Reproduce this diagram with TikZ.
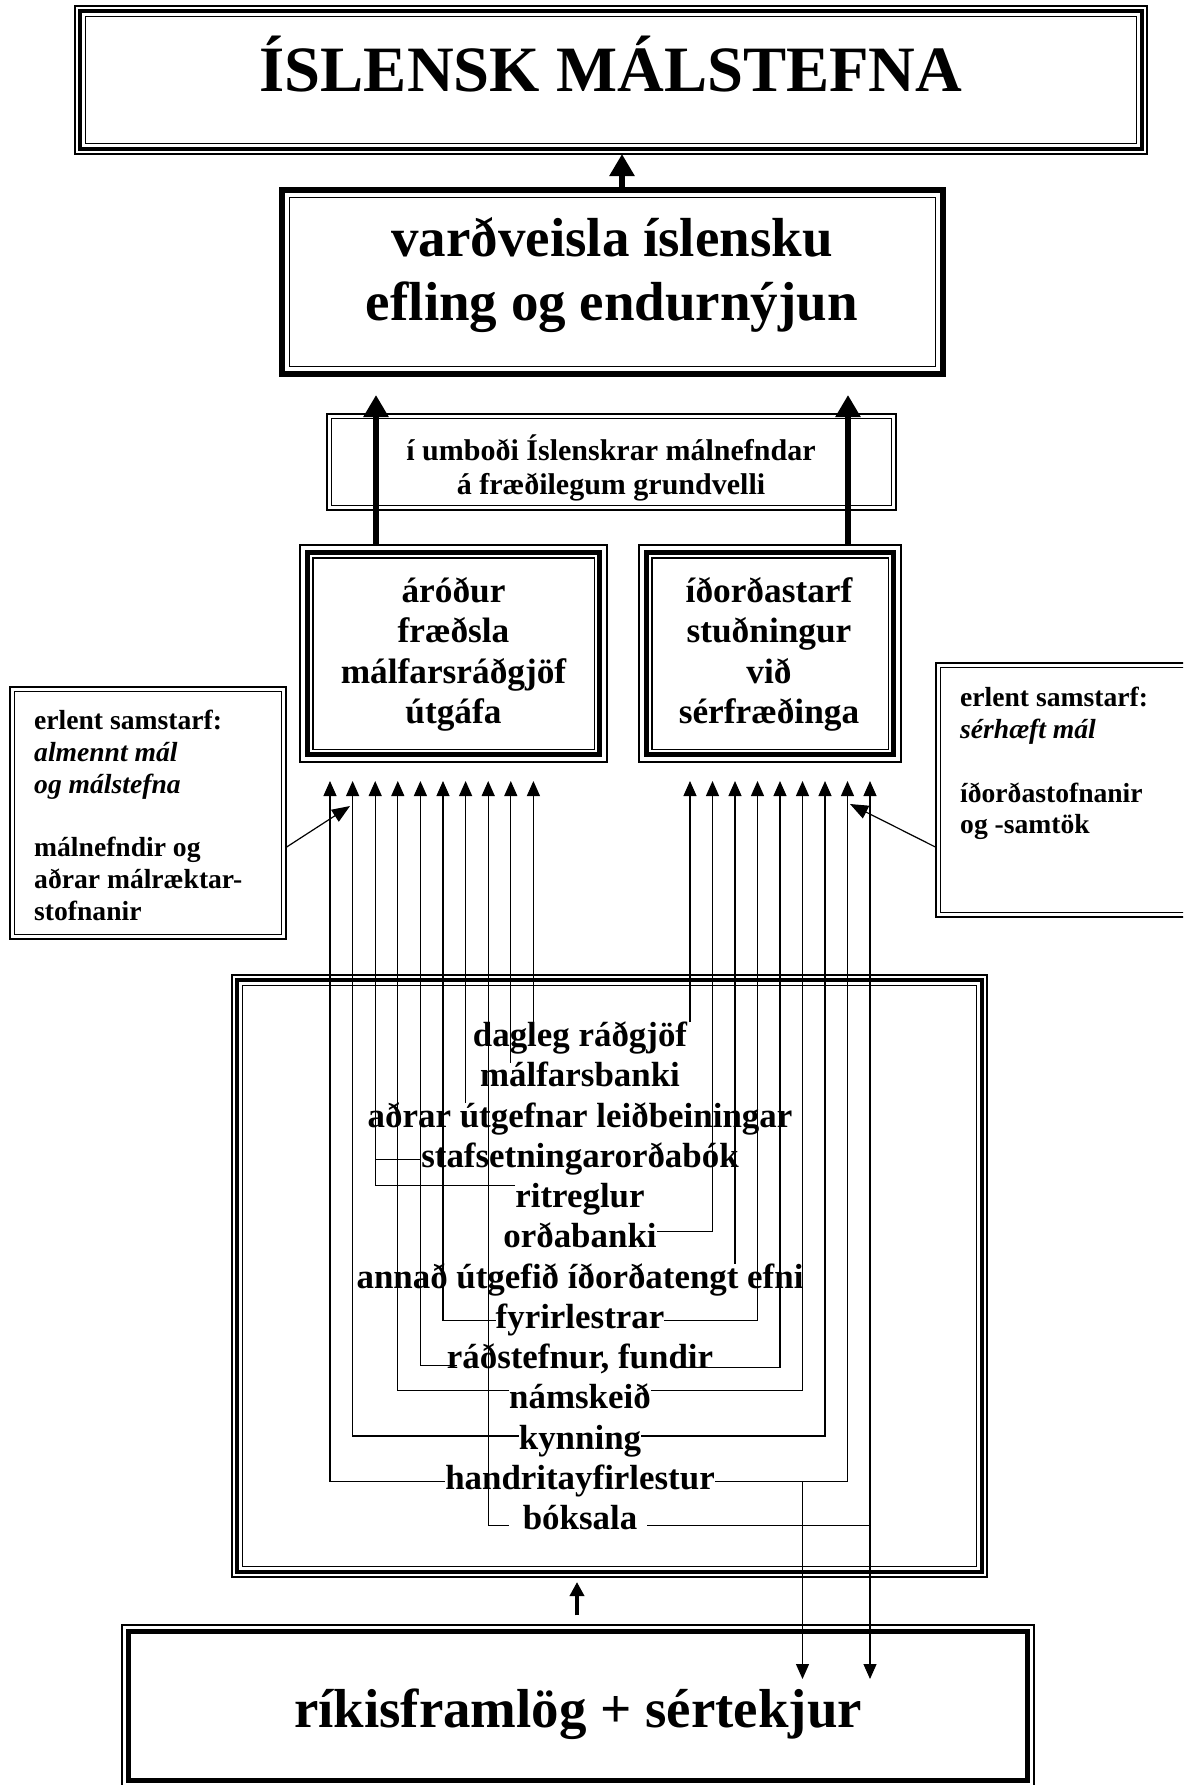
\documentclass[tikz,border=0pt]{standalone}
\usepackage{fontspec}
\setmainfont{Liberation Serif}
\usetikzlibrary{arrows.meta,calc}
\newcommand\inframe[3]{\draw[#3] ([xshift=#2pt,yshift=-#2pt]#1.north west) rectangle ([xshift=-#2pt,yshift=#2pt]#1.south east);}
\begin{document}
\begin{tikzpicture}[x=1pt,y=-1pt,
  frame/.style={draw,line width=1.3pt,inner sep=0pt},
  fthin/.style={line width=1.3pt},
  conn/.style={line width=1.2pt,-{Triangle[length=15pt,width=13pt]}},
  plainline/.style={line width=1.2pt},
  bigarrow/.style={line width=6.5pt,-{Triangle[length=22pt,width=24pt]}},
  item/.style={font=\fontsize{34.9}{40}\selectfont\bfseries,inner sep=0pt,text height=24pt,text depth=7.7pt},
  boxtext/.style={align=center,inner sep=0pt},
]
\useasboundingbox (0,0) rectangle (1183,1785);
\clip (0,0) rectangle (1183,1785);
\fill[white] (0,0) rectangle (1183,1785);

% title box
\node[frame,minimum width=1072pt,minimum height=148pt] (title) at (611,80) {};
\inframe{title}{6}{line width=4pt}
\inframe{title}{11}{fthin}
\node[font=\fontsize{64.7}{70}\selectfont\bfseries,anchor=base,inner sep=0pt] (titletext) at (611,92) {ÍSLENSK MÁLSTEFNA};

% goal box
\node[inner sep=0pt,minimum width=667pt,minimum height=190pt] (goal) at (612.5,282) {};
\inframe{goal}{3.25}{line width=6.5pt}
\inframe{goal}{10.5}{fthin}
\node[boxtext,font=\fontsize{55}{64}\selectfont\bfseries] (goaltext) at (612,275.5) {\strut varðveisla íslensku\\\strut efling og endurnýjun};

% mandate box
\node[frame,minimum width=569pt,minimum height=96pt] (umbod) at (611.5,462) {};
\inframe{umbod}{5}{fthin}
\node[boxtext,font=\fontsize{30}{34}\selectfont\bfseries] (umbodtext) at (611,469.5) {\strut í umboði Íslenskrar málnefndar\\\strut á fræðilegum grundvelli};

% left activity box
\node[frame,minimum width=307pt,minimum height=217pt] (arodur) at (453.5,653.5) {};
\inframe{arodur}{8}{line width=4.5pt}
\inframe{arodur}{13.5}{fthin}
\node[boxtext,font=\fontsize{35.3}{40.5}\selectfont\bfseries] (arodurtext) at (453.5,655) {\strut áróður\\\strut fræðsla\\\strut málfarsráðgjöf\\\strut útgáfa};

% right activity box
\node[frame,minimum width=262pt,minimum height=217pt] (idord) at (770,653.5) {};
\inframe{idord}{8}{line width=4.5pt}
\inframe{idord}{13.5}{fthin}
\node[boxtext,font=\fontsize{35.3}{40.5}\selectfont\bfseries] (idordtext) at (769,655) {\strut íðorðastarf\\\strut stuðningur\\\strut við\\\strut sérfræðinga};

% side boxes
\node[frame,minimum width=276pt,minimum height=252pt] (lside) at (148,813) {};
\inframe{lside}{5}{fthin}
\node[align=left,inner sep=0pt,anchor=west,font=\fontsize{27.6}{31.8}\selectfont\bfseries] (lsidetext) at (34,818.5) {\strut erlent samstarf:\\\strut{\itshape almennt mál}\\\strut{\itshape og málstefna}\\\strut\\\strut málnefndir og\\\strut aðrar málræktar-\\\strut stofnanir};

\node[frame,minimum width=254pt,minimum height=254pt] (rside) at (1063,790) {};
\inframe{rside}{5}{fthin}
\node[align=left,inner sep=0pt,anchor=west,font=\fontsize{27.6}{31.8}\selectfont\bfseries] (rsidetext) at (960,764) {\strut erlent samstarf:\\\strut{\itshape sérhæft mál}\\\strut\\\strut íðorðastofnanir\\\strut og -samtök};

% pool box
\node[frame,minimum width=755pt,minimum height=602pt] (pool) at (609.5,1276) {};
\inframe{pool}{5.5}{line width=4pt}
\inframe{pool}{11}{fthin}

% funds box
\node[frame,minimum width=912pt,minimum height=162pt] (funds) at (578,1706) {};
\inframe{funds}{7}{line width=5.5pt}
\node[font=\fontsize{54.9}{60}\selectfont\bfseries,anchor=base,inner sep=0pt] (fundstext) at (578,1727.5) {ríkisframlög + sértekjur};

% items
\node[item] (i1) at (580,1038.5) {dagleg ráðgjöf};
\node[item] (i2) at (580,1078.75) {málfarsbanki};
\node[item] (i3) at (580,1119) {aðrar útgefnar leiðbeiningar};
\node[item] (i4) at (580,1159.25) {stafsetningarorðabók};
\node[item] (i5) at (580,1199.5) {ritreglur};
\node[item] (i6) at (580,1239.75) {orðabanki};
\node[item] (i7) at (580,1280) {annað útgefið íðorðatengt efni};
\node[item] (i8) at (580,1320.25) {fyrirlestrar};
\node[item] (i9) at (580,1360.5) {ráðstefnur, fundir};
\node[item] (i10) at (580,1400.75) {námskeið};
\node[item] (i11) at (580,1441) {kynning};
\node[item] (i12) at (580,1481.25) {handritayfirlestur};
\node[item] (i13) at (580,1521.5) {bóksala};

% arrow tips
\foreach \k in {1,...,10} \coordinate (aL\k) at ({330+(\k-1)*22.6},781);
\foreach \k in {1,...,9} \coordinate (aR\k) at ({690+(\k-1)*22.5},781);
\coordinate (dR6) at (802.5,1679);
\coordinate (dR9) at (870,1679);
\coordinate (tipL) at (350,806);
\coordinate (tipR) at (850,804);
\coordinate (upL) at (376,395);
\coordinate (upR) at (848,395);
\coordinate (upT) at (622,154);
\coordinate (upP) at (577,1582);

% connectors
\draw[conn] (i1.north -| aL10) -- (aL10);
\draw[conn] (i1.north -| aR1) -- (aR1);
\draw[conn] (i2.north -| aL9) -- (aL9);
\draw[conn] (i3.north -| aL7) -- (aL7);
\draw[plainline] (i4.west) -- (i4.west -| aL3);
\draw[conn] ([yshift=14pt]i5.west) -| (aL3);
\draw[conn] ([yshift=8pt]i6.east) -| (aR2);
\draw[conn] (i7.north -| aR3) -- (aR3);
\draw[conn] (i8.west) -| (aL6);
\draw[conn] (i8.east) -| (aR4);
\draw[conn] ([xshift=10pt,yshift=-5pt]i9.west) -| (aL5);
\draw[conn] ([xshift=-36pt,yshift=-7pt]i9.east) -| (aR5);
\draw[conn] ([yshift=10pt]i10.west) -| (aL4);
\draw[conn] ([yshift=10pt]i10.east) -| (aR6);
\draw[conn] ([yshift=5pt]i11.west) -| (aL2);
\draw[conn] ([yshift=5pt]i11.east) -| (aR7);
\draw[conn] (i12.west) -| (aL1);
\draw[conn] (i12.east) -| (aR8);
\draw[conn] (i12.east -| dR6) -- (dR6);
\draw[conn] ([xshift=-14pt,yshift=-4pt]i13.west) -| (aL8);
\draw[plainline] ([xshift=10pt,yshift=-4pt]i13.east) -- ([yshift=-4pt]i13.east -| aR9);
\draw[line width=1.2pt,{Triangle[length=15pt,width=13pt]}-{Triangle[length=15pt,width=13pt]}] (dR9) -- (aR9);

\draw[line width=1.2pt,-{Triangle[length=18pt,width=14pt]}] ([yshift=-34pt]lside.east) -- (tipL);
\draw[line width=1.2pt,-{Triangle[length=18pt,width=14pt]}] ([yshift=-57pt]rside.west) -- (tipR);

% thick arrows
\draw[bigarrow] (arodur.north -| upL) -- (upL);
\draw[bigarrow] (idord.north -| upR) -- (upR);
\draw[bigarrow] (goal.north -| upT) -- (upT);
\draw[line width=4pt,-{Triangle[length=14pt,width=14pt]}] ([yshift=9pt]funds.north -| upP) -- (upP);
\end{tikzpicture}
\end{document}
